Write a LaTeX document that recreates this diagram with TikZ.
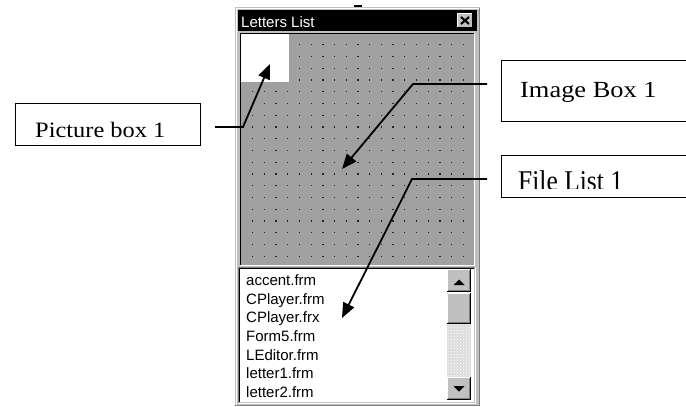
\documentclass[tikz,border=0pt]{standalone}
\usepackage{fontspec}
\setmainfont{Liberation Serif}
\newfontfamily\arialf{Liberation Sans}
\usetikzlibrary{arrows.meta,patterns}
\definecolor{wgray}{HTML}{C0C0C0}
\definecolor{dgray}{HTML}{A0A0A0}
\definecolor{darkedge}{HTML}{808080}
\definecolor{trackgray}{HTML}{DCDCDC}
\begin{document}
\begin{tikzpicture}[x=1pt,y=-1pt,
  lbl/.style={font=\fontsize{22}{22}\selectfont, inner sep=0pt, anchor=base west},
  callout/.style={line width=1.8pt, -{Triangle[length=15pt,width=12pt]}},
  lblbox/.style={draw, line width=1.2pt, inner sep=0pt, anchor=north west},
  listtxt/.style={font=\arialf\fontsize{15}{15}\selectfont, anchor=base west, inner sep=0pt},
  titletxt/.style={font=\arialf\fontsize{15}{15}\selectfont, text=white, anchor=base west, inner sep=0pt}]
\useasboundingbox (0,0) rectangle (686,407);
% small mark at top
\fill (354,5) rectangle (362,7);
% window frame
\fill[wgray] (235,7) rectangle (480,406);
\draw[white, line width=1pt] (236.5,405) -- (236.5,8.5) -- (479,8.5);
\draw[darkedge, line width=1pt] (479.5,8) -- (479.5,405.5) -- (235,405.5);
% title bar
\fill[black] (238,10) rectangle (477,31);
\node[titletxt] (title) at (241,27) {Letters List};
% close button
\fill[wgray] (457,13) rectangle (473,28);
\draw[white] (457.5,27.5) -- (457.5,13.5) -- (472.5,13.5);
\draw[black] (472.5,13) -- (472.5,27.5) -- (457,27.5);
\draw[line width=2pt] (461,17) -- (469,24) (469,17) -- (461,24);
% image box area
\fill[dgray] (240,33) rectangle (474,265);
\draw[black, line width=1pt] (240.5,265) -- (240.5,33.5) -- (474,33.5);
\draw[white, line width=1pt] (474.5,33) -- (474.5,265.5) -- (240,265.5);
% picture box (white)
\fill[white] (241,34) rectangle (289,82);
% dots
\foreach \j in {0,...,18}{
  \foreach \i in {0,...,18}{
    \pgfmathsetmacro{\xx}{252+11.7*\i}
    \pgfmathsetmacro{\yy}{44+11.75*\j}
    \pgfmathparse{(\xx<290 && \yy<83) ? 0 : 1}
    \ifnum\pgfmathresult=1
      \fill[black!85] (\xx,\yy) rectangle ++(1.3,1.3);
    \fi
  }
}
% list box
\fill[white] (239,268) rectangle (474,402);
\draw[darkedge, line width=1pt] (238.5,403) -- (238.5,267.5) -- (475,267.5);
\draw[black, line width=1pt] (239.5,402) -- (239.5,268.5) -- (474,268.5);
\draw[white, line width=1pt] (475.5,267) -- (475.5,403.5) -- (238,403.5);
% scrollbar
\fill[trackgray] (447,324) rectangle (471,377);
\fill[pattern=crosshatch dots, pattern color=white] (447,324) rectangle (471,377);
\foreach \a/\b in {269/292, 293/324, 377/400}{
  \fill[wgray] (447,\a) rectangle (471,\b);
  \draw[white] (447.5,\b-1) -- (447.5,\a+0.5) -- (470,\a+0.5);
  \draw[black] (470.5,\a) -- (470.5,\b-0.5) -- (447,\b-0.5);
  \draw[darkedge] (469.5,\a+1) -- (469.5,\b-1.5) -- (448,\b-1.5);
}
\fill (453.5,285) -- (464.5,285) -- (459,279.5) -- cycle;
\fill (453.5,386) -- (464.5,386) -- (459,391.5) -- cycle;
% list items
\node[listtxt] (l1) at (246,285) {accent.frm};
\node[listtxt] (l2) at (246,304) {CPlayer.frm};
\node[listtxt] (l3) at (246,322) {CPlayer.frx};
\node[listtxt] (l4) at (246,341) {Form5.frm};
\node[listtxt] (l5) at (246,360) {LEditor.frm};
\node[listtxt] (l6) at (246,378) {letter1.frm};
\node[listtxt] (l7) at (246,397) {letter2.frm};
% label boxes
\node[lblbox, minimum width=185pt, minimum height=42pt] (pbox) at (15,103) {};
\node[lbl] (ptext) at (35,137) {\scalebox{1.11}[1]{Picture box 1}};
\node[lblbox, minimum width=200pt, minimum height=61pt] (ibox) at (501,60) {};
\node[lbl] (itext) at (520,97) {\scalebox{1.2}[1.05]{Image Box 1}};
\node[lblbox, minimum width=200pt, minimum height=42pt] (fbox) at (501,155) {};
\begin{scope}
  \clip (502,156) rectangle (686,188);
  \node[lbl] (ftext) at (518,190) {\scalebox{1.16}[1.3]{File List 1}};
\end{scope}
% connectors
\coordinate (pstart) at (215,127);
\coordinate (pbend) at (243,127);
\coordinate (ptip) at (270,64);
\draw[callout] (pstart) -- (pbend) -- (ptip);
\coordinate (istart) at (487,84);
\coordinate (ibend) at (413,84);
\coordinate (itip) at (342,169);
\draw[callout] (istart) -- (ibend) -- (itip);
\coordinate (fstart) at (487,179);
\coordinate (fbend) at (412,179);
\coordinate (ftip) at (342,318);
\draw[callout] (fstart) -- (fbend) -- (ftip);
\end{tikzpicture}
\end{document}
